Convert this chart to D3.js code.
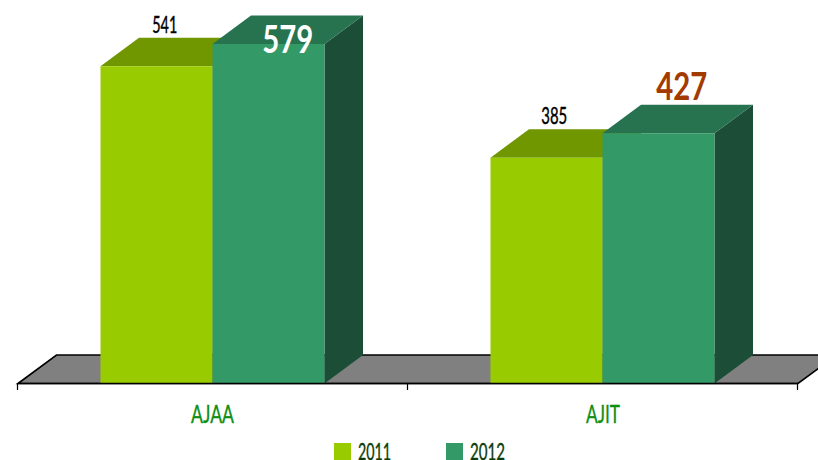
<!DOCTYPE html>
<html><head><meta charset="utf-8">
<script src="https://cdn.jsdelivr.net/npm/d3@7"></script>
<style>html,body{margin:0;padding:0;background:#fff;overflow:hidden}svg{display:block}
text{font-family:Lato,"Open Sans",sans-serif}</style>
</head><body><svg id="c" width="818" height="460"></svg>
<script>
const categories = ["AJAA", "AJIT"];
const seriesNames = ["2011", "2012"];
const values2011 = [541, 385];
const values2012 = [579, 427];
const frontColors = ["#99CC00","#339966"];
const topColors = ["#709600","#277350"];
const sideColors = ["#5f7f00","#1C4D37"];
const dx = 38.5, dy = 28.5;

const svg = d3.select("#c");
const x = d3.scaleBand().domain(categories).range([18, 798]);
const inner = d3.scaleBand().domain(seriesNames).range([82.5, 306.5]);
const y = d3.scaleLinear().domain([0, 579]).range([383.5, 44]);
const base = y(0);
const poly = (pts, fill) => svg.append("polygon").attr("points", pts.map(p => p.join(",")).join(" ")).attr("fill", fill);

// floor
poly([[x.range()[0], base],[x.range()[0]+dx, base-dy],[x.range()[1]+dx, base-dy],[x.range()[1], base]], "#808080")
  .attr("stroke","#000").attr("stroke-width",1.6);

const data = [values2011, values2012];
categories.forEach(c => {
  seriesNames.forEach((s, si) => {
    const v = data[si][categories.indexOf(c)];
    const x0 = x(c) + inner(s), x1 = x0 + inner.bandwidth(), t = y(v);
    poly([[x1,t],[x1+dx,t-dy],[x1+dx,base-dy],[x1,base]], sideColors[si]);
    poly([[x0,t],[x0+dx,t-dy],[x1+dx,t-dy],[x1,t]], topColors[si]);
    poly([[x0,t],[x1,t],[x1,base],[x0,base]], frontColors[si]);
  });
});

// axis
const axis = d3.axisBottom(x).tickFormat("").tickSize(0);
const ag = svg.append("g").attr("transform",`translate(0,${base})`).call(axis);
ag.select(".domain").attr("stroke","#000").attr("stroke-width",1.6).attr("d",`M${x.range()[0]},0H${x.range()[1]}`);
ag.selectAll(".tick").remove();
[...categories.map(c=>x(c)), x.range()[1]].forEach(px=>{
  ag.append("line").attr("x1",px-.5).attr("x2",px-.5).attr("y1",0).attr("y2",6.5).attr("stroke","#000").attr("stroke-width",1.2);
});

const label = (px, py, str, size, width, fill, weight, anchor, sw) =>
  svg.append("text").attr("x",px).attr("y",py).attr("text-anchor",anchor||"middle")
    .attr("font-size",size).attr("font-weight",weight||"normal").attr("fill",fill)
    .attr("stroke",sw?fill:"none").attr("stroke-width",sw||0)
    .attr("textLength",width).attr("lengthAdjust","spacingAndGlyphs").text(str);

// category labels
const catWidths = [43, 34];
categories.forEach((c,i)=> label(x(c)+x.bandwidth()/2-(i?0:.5), 423, c, 25, catWidths[i], "#0F8F12", "normal", "middle", .35));

// value labels
const centerOf = (ci,si) => x(categories[ci])+inner(seriesNames[si])+inner.bandwidth()/2+dx/2;
const backOf = (ci,si) => y(data[si][ci])-dy;
label(centerOf(0,0)-11, backOf(0,0)-5, values2011[0], 24, 25, "#000", "normal", "middle", .45);
label(centerOf(1,0)-11.5, backOf(1,0)-5.5, values2011[1], 24, 26, "#000", "normal", "middle", .45);
label(centerOf(0,1), backOf(0,1)+37, values2012[0], 37.5, 51, "#fff", "bold");
label(centerOf(1,1)+4, backOf(1,1)-4.5, values2012[1], 37.5, 51, "#A33A00", "bold");

// legend
const legendX = d3.scaleOrdinal().domain(seriesNames).range([334,446]);
const legendWidths = [33, 35];
seriesNames.forEach((s,i)=>{
  svg.append("rect").attr("x",legendX(s)).attr("y",443).attr("width",17).attr("height",17).attr("fill",frontColors[i]);
  label(legendX(s)+24, 459.5, s, 23.5, legendWidths[i], "#0A3D0A", "normal", "start", .4);
});
</script></body></html>
